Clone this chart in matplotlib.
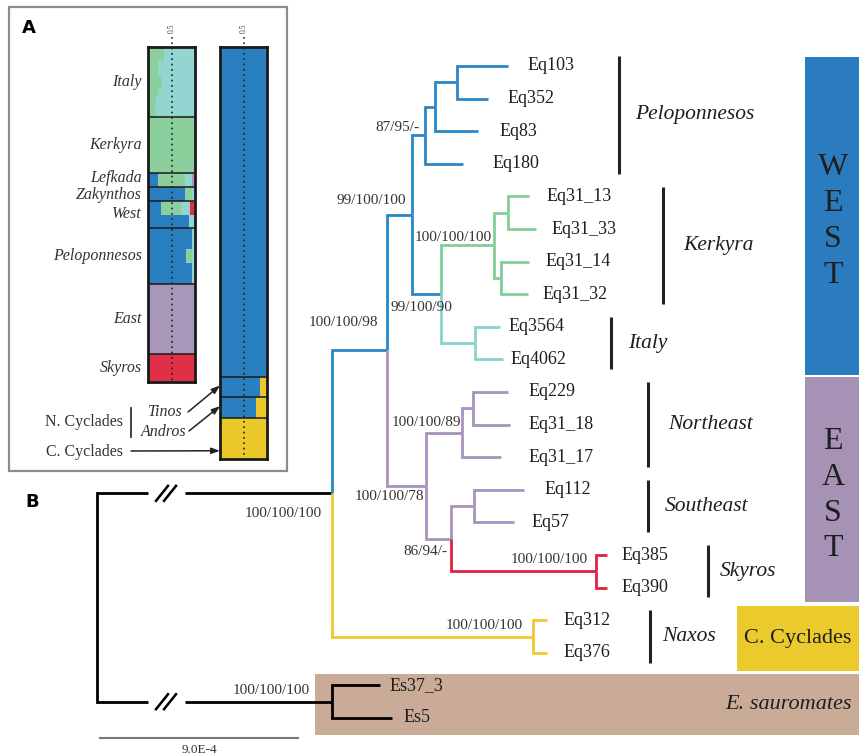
import matplotlib
matplotlib.use("Agg")
import matplotlib.pyplot as plt
from matplotlib.patches import Rectangle
from matplotlib.transforms import blended_transform_factory

# ---------------- data ----------------
# tree topology (internal node -> children, top to bottom)
tree_children = {
    "root": ["ingroup", "outgroup"],
    "ingroup": ["WE", "Naxos"],
    "WE": ["West", "East"],
    "West": ["Pelop", "KI"],
    "Pelop": ["P2", "Eq180"],
    "P2": ["P3", "Eq83"],
    "P3": ["Eq103", "Eq352"],
    "KI": ["Ker", "Italy"],
    "Ker": ["K1", "K2"],
    "K1": ["Eq31_13", "Eq31_33"],
    "K2": ["Eq31_14", "Eq31_32"],
    "Italy": ["Eq3564", "Eq4062"],
    "East": ["NE", "SES"],
    "NE": ["NE1", "Eq31_17"],
    "NE1": ["Eq229", "Eq31_18"],
    "SES": ["SE", "Sky"],
    "SE": ["Eq112", "Eq57"],
    "Sky": ["Eq385", "Eq390"],
    "Naxos": ["Eq312", "Eq376"],
    "outgroup": ["Es37_3", "Es5"],
}

# branch lengths in units of 1e-5 substitutions/site (root stems are broken)
branch_len = {
    "ingroup": 107, "outgroup": 107,
    "WE": 25, "West": 11, "Pelop": 6, "P2": 4.5, "P3": 10,
    "Eq103": 23.5, "Eq352": 14, "Eq83": 19.5, "Eq180": 17.5,
    "KI": 13.5, "Ker": 24, "K1": 6.5, "K2": 3,
    "Eq31_13": 9.5, "Eq31_33": 12.5, "Eq31_14": 13, "Eq31_32": 12.5,
    "Italy": 15.5, "Eq3564": 11, "Eq4062": 12.5,
    "East": 17.5, "NE": 16.5, "NE1": 5, "Eq229": 16, "Eq31_18": 16.5,
    "Eq31_17": 17.5, "SES": 11.5, "SE": 10.5, "Eq112": 22.5, "Eq57": 18,
    "Sky": 66, "Eq385": 5, "Eq390": 5,
    "Naxos": 91, "Eq312": 6.5, "Eq376": 6.5,
    "Es37_3": 21.5, "Es5": 27,
}

support = {
    "Pelop": "87/95/-", "West": "99/100/100", "Ker": "100/100/100",
    "KI": "99/100/90", "WE": "100/100/98", "NE": "100/100/89",
    "East": "100/100/78", "SES": "86/94/-", "Sky": "100/100/100",
    "Naxos": "100/100/100", "ingroup": "100/100/100", "outgroup": "100/100/100",
}

clades = [("Peloponnesos", "Eq103", "Eq180"), ("Kerkyra", "Eq31_13", "Eq31_32"),
          ("Italy", "Eq3564", "Eq4062"), ("Northeast", "Eq229", "Eq31_17"),
          ("Southeast", "Eq112", "Eq57"), ("Skyros", "Eq385", "Eq390"),
          ("Naxos", "Eq312", "Eq376")]

groups = [("WEST", "Eq103", "Eq4062"), ("EAST", "Eq229", "Eq390"),
          ("C. Cyclades", "Eq312", "Eq376"), ("E. sauromates", "Es37_3", "Es5")]

# panel A: STRUCTURE memberships (blue, green, cyan, purple, red, yellow)
pops_k5 = ["Italy", "Kerkyra", "Lefkada", "Zakynthos", "West", "Peloponnesos", "East", "Skyros"]
q_k5 = [
    [(0, .35, .65, 0, 0, 0), (0, .35, .65, 0, 0, 0), (0, .22, .78, 0, 0, 0), (0, .22, .78, 0, 0, 0),
     (0, .28, .72, 0, 0, 0), (0, .30, .70, 0, 0, 0), (0, .22, .78, 0, 0, 0), (0, .18, .82, 0, 0, 0),
     (0, .15, .85, 0, 0, 0), (0, .18, .82, 0, 0, 0)],
    [(0, 1, 0, 0, 0, 0)] * 8,
    [(.21, .57, .16, .06, 0, 0)] * 2,
    [(.79, .14, .07, 0, 0, 0)] * 2,
    [(.28, .42, .20, 0, .10, 0), (.28, .42, .20, 0, .10, 0),
     (.88, 0, .09, .03, 0, 0), (.88, 0, .09, .03, 0, 0)],
    [(.93, 0, .07, 0, 0, 0), (.93, 0, .07, 0, 0, 0), (.93, 0, .07, 0, 0, 0), (.80, .13, .07, 0, 0, 0),
     (.80, .13, .07, 0, 0, 0), (.93, 0, .07, 0, 0, 0), (.93, 0, .07, 0, 0, 0), (.94, 0, .06, 0, 0, 0)],
    [(0, 0, 0, 1, 0, 0), (0, 0, 0, 1, 0, 0), (0, .05, 0, .95, 0, 0), (0, .05, 0, .95, 0, 0),
     (0, 0, 0, 1, 0, 0), (0, 0, 0, 1, 0, 0), (0, 0, 0, 1, 0, 0), (0, 0, 0, 1, 0, 0),
     (0, 0, 0, 1, 0, 0), (0, 0, 0, 1, 0, 0)],
    [(0, 0, 0, 0, 1, 0)] * 4,
]
pops_k2 = ["all", "Tinos", "Andros", "C. Cyclades"]
q_k2 = [
    [(1, 0, 0, 0, 0, 0)] * 48,
    [(.86, 0, 0, 0, 0, .14)] * 3,
    [(.77, 0, 0, 0, 0, .23)] * 3,
    [(0, 0, 0, 0, 0, 1)] * 6,
]

# ---------------- style ----------------
BLUE, GREEN, CYAN = "#2b86c8", "#80cf98", "#86d4cc"
PURPLE, RED, YELLOW = "#a893bf", "#e01f3d", "#f0c72a"
cluster_colors = ["#2a7fc0", "#8bcf9c", "#93d5d1", "#a997b9", "#e03048", "#ecc92a"]
clade_color = {"WE": BLUE, "Ker": GREEN, "Italy": CYAN, "East": PURPLE,
               "Sky": RED, "Naxos": YELLOW}
block_colors = {"WEST": "#2b7cbf", "EAST": "#a692b5", "C. Cyclades": "#eaca2c",
                "E. sauromates": "#c9ab97"}
block_x = {"WEST": 805, "EAST": 805, "C. Cyclades": 737, "E. sauromates": 315}
block_pad = {"WEST": (0.28, 0.48), "EAST": (0.45, 0.44), "C. Cyclades": (0.43, 0.56),
             "E. sauromates": (0.34, 0.52)}

plt.rcParams["font.family"] = ["Liberation Serif", "DejaVu Serif"]

W, H = 859, 756
ROOT_PX, PX_PER_UNIT = 97, 2.2
LEAF0_PX, LEAF_STEP = 66, 32.6
BREAK = (23.2, 40.0)

tip_gap = {"Eq103": 19, "Eq352": 20, "Eq83": 22, "Eq180": 29, "Eq31_13": 17, "Eq31_33": 16,
           "Eq31_14": 16, "Eq31_32": 14, "Eq3564": 9, "Eq4062": 8, "Eq229": 20, "Eq31_18": 19,
           "Eq31_17": 28, "Eq112": 21, "Eq57": 18, "Eq385": 14, "Eq390": 14, "Eq312": 17,
           "Eq376": 17, "Es37_3": 10, "Es5": 12}
support_off = {"Pelop": (-5, 8), "West": (-6, 14), "Ker": (-2, 8), "KI": (11, -13),
               "WE": (-9, 28), "NE": (-1, 10), "East": (-2, -11), "SES": (-4, -13),
               "Sky": (-9, 12), "Naxos": (-10, 11), "ingroup": (-11, -20),
               "outgroup": (-23, 11)}
clade_bar_x = {"Peloponnesos": 619, "Kerkyra": 663, "Italy": 611, "Northeast": 648,
               "Southeast": 648, "Skyros": 708, "Naxos": 650}
clade_lab_x = {"Peloponnesos": 635, "Kerkyra": 683, "Italy": 628, "Northeast": 668,
               "Southeast": 665, "Skyros": 720, "Naxos": 662}
pop_label_dy = {"Lefkada": 2, "Zakynthos": -1}

# ---------------- layout of the tree ----------------
pos_x, pos_y, color = {}, {}, {}
leaf_order = []


def place(node, x, col):
    pos_x[node] = x
    color[node] = clade_color.get(node, col)
    kids = tree_children.get(node)
    if not kids:
        pos_y[node] = len(leaf_order)
        leaf_order.append(node)
        return
    for k in kids:
        place(k, x + branch_len[k], color[node])
    pos_y[node] = sum(pos_y[k] for k in kids) / len(kids)


place("root", 0, "black")

fig = plt.figure(figsize=(W / 100, H / 100), dpi=100)
ax = fig.add_axes([0, 0, 1, 1])
ov = fig.add_axes([0, 0, 1, 1])
ax.set_zorder(0)
ov.set_zorder(1)
ax.set_xlim(-ROOT_PX / PX_PER_UNIT, (W - ROOT_PX) / PX_PER_UNIT)
ax.set_ylim((H - LEAF0_PX) / LEAF_STEP, -LEAF0_PX / LEAF_STEP)
ov.set_xlim(0, W)
ov.set_ylim(H, 0)
ax.axis("off")
ov.axis("off")
bt = blended_transform_factory(ov.transData, ax.transData)

# right-hand group blocks
for name, a, b in groups:
    y0, y1 = pos_y[a] - block_pad[name][0], pos_y[b] + block_pad[name][1]
    x0 = block_x[name]
    ax.add_patch(Rectangle((x0, y0), W - x0, y1 - y0, facecolor=block_colors[name],
                           edgecolor="none", transform=bt, zorder=0))
    mid = (y0 + y1) / 2
    if name in ("WEST", "EAST"):
        for i, ch in enumerate(name):
            ax.text(833, mid + (i - 1.5) * 1.1 + 0.17, ch, transform=bt, ha="center",
                    va="center", fontsize=23, color="#1e1e1e")
    elif name == "C. Cyclades":
        ax.text(798, mid, name, transform=bt, ha="center", va="center",
                fontsize=16, color="#1e1e1e")
    else:
        ax.text(852, mid, name, transform=bt, ha="right", va="center",
                fontsize=16, style="italic", color="#1e1e1e")

# branches
LW = 2.0
root_kids = tree_children["root"]
ax.plot([0, 0], [pos_y[root_kids[0]], pos_y[root_kids[-1]]], color="black", lw=LW,
        solid_capstyle="projecting", zorder=3)
for node, kids in tree_children.items():
    for k in kids:
        if node == "root":
            ax.plot([0, BREAK[0]], [pos_y[k], pos_y[k]], color="black", lw=LW,
                    solid_capstyle="butt", zorder=3)
            ax.plot([BREAK[1], pos_x[k]], [pos_y[k], pos_y[k]], color="black", lw=LW,
                    solid_capstyle="butt", zorder=3)
        else:
            ax.plot([pos_x[node], pos_x[node], pos_x[k]], [pos_y[node], pos_y[k], pos_y[k]],
                    color=color[k], lw=LW, solid_joinstyle="miter", solid_capstyle="butt",
                    zorder=3)

# break marks on the root stems
for k in root_kids:
    for sx in (156, 164):
        ax.plot([sx, sx + 12], [pos_y[k] + 0.23, pos_y[k] - 0.23], color="black",
                lw=1.8, transform=bt, zorder=3)

# tip labels
for leaf in leaf_order:
    ax.annotate(leaf, (pos_x[leaf], pos_y[leaf]), xytext=(tip_gap[leaf], 0),
                textcoords="offset pixels", ha="left", va="center", fontsize=13,
                color="#1e1e1e", zorder=4)

# support values
for node, txt in support.items():
    ax.annotate(txt, (pos_x[node], pos_y[node]), xytext=support_off[node],
                textcoords="offset pixels", ha="right", va="center", fontsize=11,
                color="#333333", zorder=4)

# clade bars
for name, a, b in clades:
    y0, y1 = pos_y[a] - 0.3, pos_y[b] + 0.3
    xb = clade_bar_x[name]
    ax.plot([xb, xb], [y0, y1], color="#222222", lw=2.2, transform=bt, solid_capstyle="butt")
    ax.text(clade_lab_x[name], (y0 + y1) / 2, name, transform=bt, ha="left", va="center",
            fontsize=15.5, style="italic", color="#1e1e1e")

# scale bar (9.0E-4 = 90 units)
ax.plot([1.4, 91.4], [20.6, 20.6], color="#777777", lw=1.5)
ax.text(46.4, 20.98, "9.0E-4", ha="center", va="center", fontsize=9.5, color="#333333")

# panel labels and box
ov.add_patch(Rectangle((9, 7), 278, 464, fill=False, edgecolor="#8c8c8c", lw=1.6))
ov.text(22, 28, "A", fontsize=13, fontweight="bold", family="DejaVu Sans", va="center")
ov.text(25, 502, "B", fontsize=13, fontweight="bold", family="DejaVu Sans", va="center")


# ---------------- panel A: STRUCTURE bars ----------------
def structure_bar(x0, y0, x1, y1, q):
    a = fig.add_axes([x0 / W, 1 - y1 / H, (x1 - x0) / W, (y1 - y0) / H])
    a.set_zorder(2)
    rows = [r for p in q for r in p]
    n = len(rows)
    for i, r in enumerate(rows):
        left = 0
        for j, v in enumerate(r):
            if v > 0:
                a.barh(i + 0.5, v, left=left, height=1.0, color=cluster_colors[j],
                       edgecolor="none")
                left += v
    a.set_xlim(0, 1)
    a.set_ylim(n, 0)
    a.set_xticks([])
    a.set_yticks([])
    for s in a.spines.values():
        s.set_linewidth(2.0)
        s.set_color("#1a1a1a")
    start = 0
    mids = []
    for p in q:
        if start > 0:
            a.axhline(start, color="#1a1a1a", lw=1.1)
        mids.append(start + len(p) / 2)
        start += len(p)
    a.plot([0.5, 0.5], [-1.5, n - 0.3], ls=(0, (1, 2.2)), color="#222222", lw=1.2,
           clip_on=False)
    a.text(0.5, -2.7, "0.5", rotation=90, ha="center", va="center", fontsize=5.5,
           color="#444444", clip_on=False)
    return a, mids


axL, midsL = structure_bar(148, 47, 195, 382, q_k5)
for p, m in zip(pops_k5, midsL):
    axL.annotate(p, (0, m), xytext=(-6, pop_label_dy.get(p, 0)), textcoords="offset pixels",
                 ha="right", va="center", fontsize=11.5, style="italic", color="#333333")

axR, midsR = structure_bar(220, 47, 267, 459, q_k2)

ov.text(123, 422, "N. Cyclades", ha="right", va="center", fontsize=11.5, color="#333333")
ov.plot([131, 131], [408, 437], color="#333333", lw=1.3)
ov.text(183, 412, "Tinos", ha="right", va="center", fontsize=11.5, style="italic",
        color="#333333")
ov.text(186, 432, "Andros", ha="right", va="center", fontsize=11.5, style="italic",
        color="#333333")
ov.text(123, 452, "C. Cyclades", ha="right", va="center", fontsize=11.5, color="#333333")
arrow = dict(arrowstyle="-|>,head_length=0.5,head_width=0.18", color="#222222", lw=1.1,
             shrinkA=0, shrinkB=0)
ov.annotate("", xy=(0, 49.3), xycoords=axR.transData, xytext=(188, 412),
            textcoords=ov.transData, arrowprops=arrow)
ov.annotate("", xy=(0, 52.3), xycoords=axR.transData, xytext=(189, 431),
            textcoords=ov.transData, arrowprops=arrow)
ov.annotate("", xy=(0, 58.8), xycoords=axR.transData, xytext=(131, 451),
            textcoords=ov.transData, arrowprops=arrow)

fig.savefig("out.png", dpi=100)
